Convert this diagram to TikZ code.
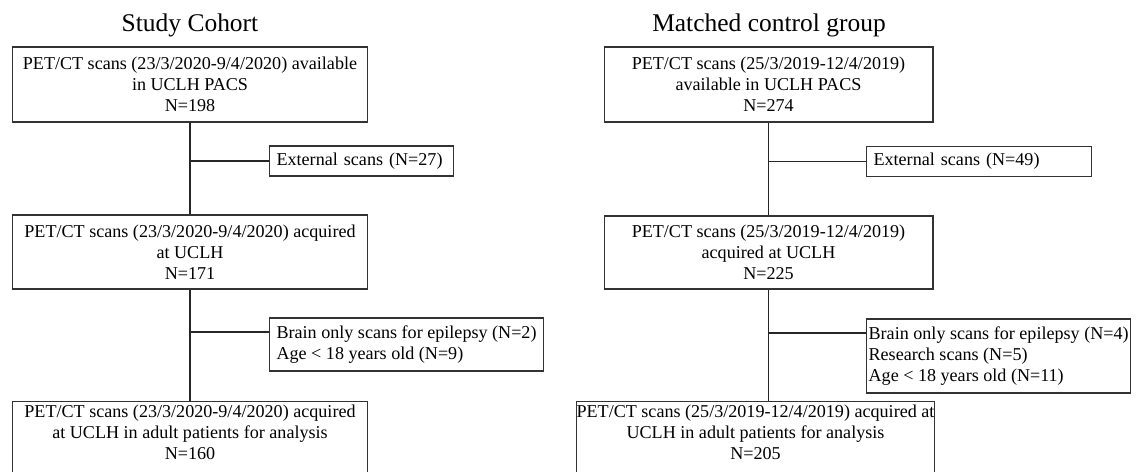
\documentclass[tikz,border=0pt]{standalone}
\usepackage{fontspec}
\setmainfont{Liberation Serif}

\begin{document}
\begin{tikzpicture}[x=0.02cm, y=-0.02cm,
	mainbox/.style={draw=black!80, line width=0.6pt, align=center, font=\fontsize{10.3}{12}\selectfont, inner sep=0pt},
	exclbox/.style={draw=black!80, line width=0.6pt, align=left, anchor=west, font=\fontsize{10.3}{12}\selectfont, inner xsep=4pt, inner ysep=0pt},
	heading/.style={font=\fontsize{14.5}{17}\selectfont},
	link/.style={draw=black!85, line width=0.6pt}]
	\useasboundingbox (0,0) rectangle (1137,471);
	\clip (0,0) rectangle (1137,471);

	% study cohort
	\node[heading] (studytitle) at (190,25) {Study Cohort};
	\node[mainbox, minimum width=7.12cm, minimum height=1.5cm] (study1) at (190,84.5)
		{PET/CT scans (23/3/2020-9/4/2020) available\\in UCLH PACS\\N=198};
	\node[exclbox, text width=3.4cm, minimum height=0.6cm] (studyex1) at (269,161)
		{External scans (N=27)};
	\node[mainbox, minimum width=7.12cm, minimum height=1.48cm] (study2) at (190,252)
		{PET/CT scans (23/3/2020-9/4/2020) acquired\\at UCLH\\N=171};
	\node[exclbox, minimum height=1.06cm] (studyex2) at (269,344.5)
		{Brain only scans for epilepsy (N=2)\\Age < 18 years old (N=9)};
	\node[mainbox, anchor=north, minimum width=7.12cm, inner ysep=2pt, text depth=2cm] (study3) at (190,401)
		{PET/CT scans (23/3/2020-9/4/2020) acquired\\at UCLH in adult patients for analysis\\N=160};
	\coordinate (studyjoin) at (269,332);

	\draw[link] (study1.south) -- (study2.north)
		(study1.south |- studyex1.west) -- (studyex1.west)
		(study2.south) -- (study3.north)
		(study2.south |- studyjoin) -- (studyjoin);

	% matched control group
	\node[heading] (ctrltitle) at (769,25) {Matched control group};
	\node[mainbox, minimum width=6.58cm, minimum height=1.5cm] (ctrl1) at (768.5,84.5)
		{PET/CT scans (25/3/2019-12/4/2019)\\available in UCLH PACS\\N=274};
	\node[exclbox, text width=4.22cm, minimum height=0.6cm] (ctrlex1) at (866,161.5)
		{External scans (N=49)};
	\node[mainbox, minimum width=6.58cm, minimum height=1.46cm] (ctrl2) at (768.5,252.5)
		{PET/CT scans (25/3/2019-12/4/2019)\\acquired at UCLH\\N=225};
	\node[exclbox, inner xsep=1.2pt, minimum height=1.48cm] (ctrlex2) at (866,356)
		{Brain only scans for epilepsy (N=4)\\Research scans (N=5)\\Age < 18 years old (N=11)};
	\node[mainbox, anchor=north, minimum width=7.1cm, inner ysep=2pt, text depth=2cm] (ctrl3) at (755.5,401)
		{PET/CT scans (25/3/2019-12/4/2019) acquired at\\UCLH in adult patients for analysis\\N=205};
	\coordinate (ctrljoin) at (866,333);

	\draw[link] (ctrl1.south) -- (ctrl2.north)
		(ctrl1.south |- ctrlex1.west) -- (ctrlex1.west)
		(ctrl2.south) -- (ctrl2.south |- ctrl3.north)
		(ctrl2.south |- ctrljoin) -- (ctrljoin);
\end{tikzpicture}
\end{document}
